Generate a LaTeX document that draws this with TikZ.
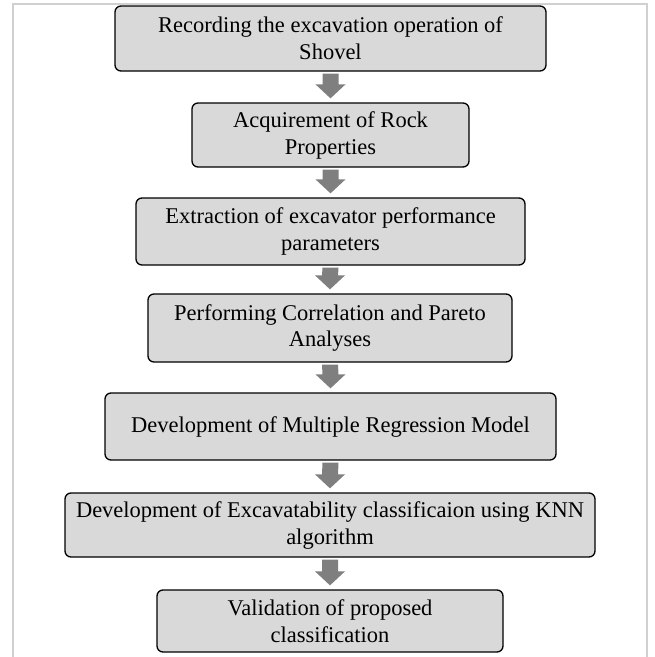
\documentclass[tikz,border=0pt]{standalone}
\usepackage{fontspec}
\setmainfont{Liberation Serif}
\usepackage{xcolor}
\usetikzlibrary{positioning, calc}

\definecolor{boxgray}{HTML}{D9D9D9}
\definecolor{arrowgray}{HTML}{7F7F7F}
\definecolor{framegray}{HTML}{D0D0D0}

\tikzset{
  stagebox/.style={rectangle, draw=black, line width=1.3pt, rounded corners=6pt, fill=boxgray,
    align=center, inner sep=2pt, font=\fontsize{22.5}{27}\selectfont},
}

\begin{document}
\begin{tikzpicture}[x=1pt, y=-1pt]

\useasboundingbox (0,0) rectangle (655,657);
\draw[framegray, line width=1.5pt] (13,657) -- (13,4) -- (647,4) -- (647,657);

\node[stagebox, minimum width=431pt, minimum height=65pt] (s1) at (330.5, 38.5) {Recording the excavation operation of\\Shovel};
\node[stagebox, minimum width=277pt, minimum height=64pt] (s2) at (330.5, 135) {Acquirement of Rock\\Properties};
\node[stagebox, minimum width=389pt, minimum height=67pt] (s3) at (330.5, 231.5) {Extraction of excavator performance\\parameters};
\node[stagebox, minimum width=364pt, minimum height=68pt] (s4) at (330, 328) {Performing Correlation and Pareto\\Analyses};
\node[stagebox, minimum width=451pt, minimum height=67pt] (s5) at (330.5, 426.5) {Development of Multiple Regression Model};
\node[stagebox, minimum width=530pt, minimum height=64pt] (s6) at (330, 525) {Development of Excavatability classificaion using KNN\\algorithm};
\node[stagebox, minimum width=346pt, minimum height=62pt] (s7) at (330, 621) {Validation of proposed\\classification};

% block arrows between the stages
\foreach \a/\b in {s1/s2, s2/s3, s3/s4, s4/s5, s5/s6, s6/s7} {
  \fill[arrowgray] ($(\a.south)+(-8,2)$) -- ($(\a.south)+(8,2)$) -- ($(\b.north)+(8,-18)$)
    -- ($(\b.north)+(15,-18)$) -- ($(\b.north)+(0,-4)$) -- ($(\b.north)+(-15,-18)$)
    -- ($(\b.north)+(-8,-18)$) -- cycle;
}

\end{tikzpicture}
\end{document}
